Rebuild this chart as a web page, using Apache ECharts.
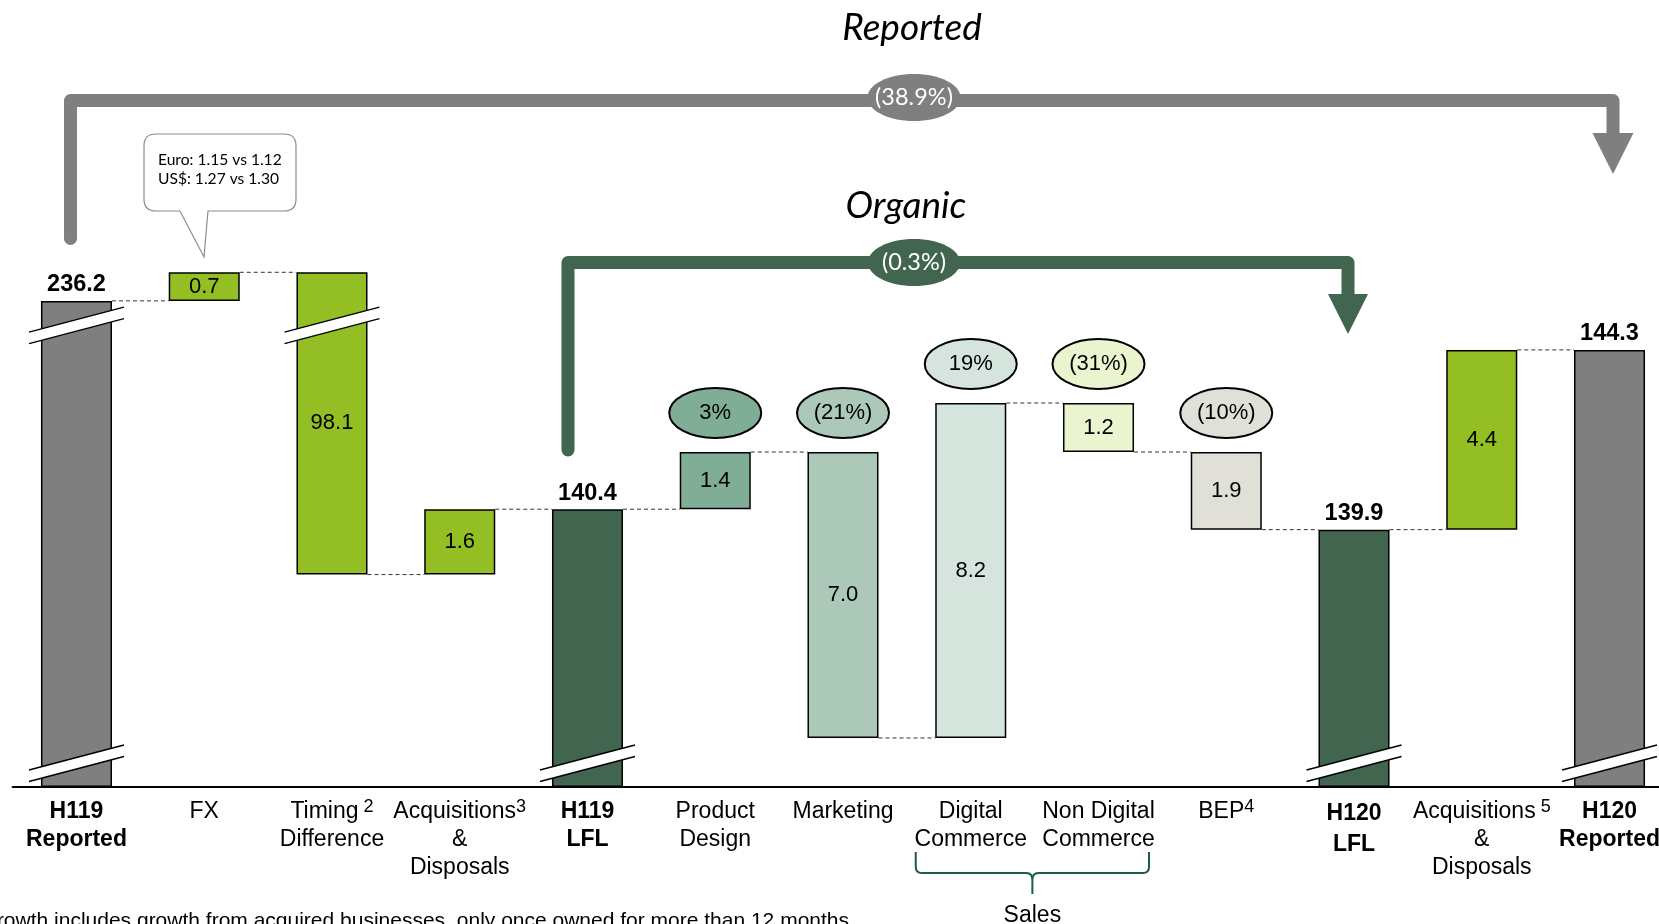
<!DOCTYPE html>
<html>
<head>
<meta charset="utf-8">
<title>H1 bridge: H119 to H120</title>
<script src="https://cdn.jsdelivr.net/npm/echarts@6/dist/echarts.min.js"></script>
<style>
  html, body { margin: 0; padding: 0; background: #ffffff; }
  #main { width: 1659px; height: 924px; }
</style>
</head>
<body>
<div id="main"></div>
<script>
// ---- data -------------------------------------------------------------
const categories = ['H119\nReported', 'FX', 'Timing\nDifference', 'Acquisitions\n&\nDisposals', 'H119\nLFL',
  'Product\nDesign', 'Marketing', 'Digital\nCommerce', 'Non Digital\nCommerce', 'BEP', 'H120\nLFL',
  'Acquisitions\n&\nDisposals', 'H120\nReported'];
const footnoteMarks = ['', '', ' 2', '3', '', '', '', '', '', '4', '', ' 5', ''];
// totals are absolute levels, the rest are movements (+ up, - down)
const values = [236.2, 0.7, -98.1, 1.6, 140.4, 1.4, -7.0, 8.2, -1.2, -1.9, 139.9, 4.4, 144.3];
const isTotal = [true, false, false, false, true, false, false, false, false, false, true, false, true];
const valueLabels = ['236.2', '0.7', '98.1', '1.6', '140.4', '1.4', '7.0', '8.2', '1.2', '1.9', '139.9', '4.4', '144.3'];
const growthLabels = ['', '', '', '', '', '3%', '(21%)', '19%', '(31%)', '(10%)', '', '', ''];
const reportedGrowth = '(38.9%)';
const organicGrowth = '(0.3%)';
const fxRates = ['Euro: 1.15 vs 1.12', 'US$: 1.27 vs 1.30'];
const footnote = 'LFL growth includes growth from acquired businesses, only once owned for more than 12 months';

// ---- styles -----------------------------------------------------------
const barColors = ['#7f7f7f', '#93be24', '#93be24', '#93be24', '#42654f', '#80ad96', '#abc8b8',
  '#d5e4dd', '#eaf4cf', '#e0e0d8', '#42654f', '#93be24', '#7f7f7f'];
const boldIdx = [0, 4, 12];
const FONT = '"Liberation Sans", Arial, Helvetica, sans-serif';
const LATO = 'Lato, "Noto Sans", sans-serif';
const GRAY = '#7f7f7f', GREEN = '#42654f', TEAL = '#1f5a4e';

// value axis: truncated at the bottom, broken between the two value ranges
const axisMin = 133.6, axisMax = 237.0;
const yBreak = { start: 144.9, end: 235.6 };
const lowBreakValue = axisMin + 0.58;

// ---- waterfall geometry from the values ---------------------------------
const base = [], span = [], levels = [], tops = [];
let run = 0;
values.forEach((v, i) => {
  if (isTotal[i]) {
    base.push(axisMin); span.push(v - axisMin); run = v;
  } else {
    const lo = v >= 0 ? run : run + v;
    base.push(lo); span.push(Math.abs(v)); run = run + v;
  }
  levels.push(run);
  tops.push(base[i] + span[i]);
});

const connectorData = levels.slice(0, -1).map((l, i) => [i, l]);
const breakData = [[0, yBreak.start], [2, yBreak.start],
  [0, lowBreakValue], [4, lowBreakValue], [10, lowBreakValue], [12, lowBreakValue]];
const growthData = growthLabels.map((g, i) => g ? [i, tops[i]] : null).filter(Boolean);

const chart = echarts.init(document.getElementById('main'), null, { renderer: 'canvas' });

function categoryLabel(value, idx) {
  const style = idx === 10 ? 'bl' : (boldIdx.includes(idx) ? 'b' : 'n');
  return value.split('\n').map((line, j) =>
    '{' + style + '|' + line + '}' + (j === 0 && footnoteMarks[idx] ? '{s|' + footnoteMarks[idx] + '}' : '')
  ).join('\n');
}

// FX call-out bubble and the "Sales" brace (drawn as paths)
function drawNotes(params, api) {
  const cL = api.coord([7, axisMin])[0] - 55;
  const cR = api.coord([8, axisMin])[0] + 50.5;
  const m = (cL + cR) / 2;
  const brace = 'M' + cL + ' 852 L' + cL + ' 867 Q' + cL + ' 873 ' + (cL + 6) + ' 873 L' + (m - 6) + ' 873 Q' + m + ' 873 ' + m + ' 880 L' + m + ' 894' +
    ' M' + m + ' 880 Q' + m + ' 873 ' + (m + 6) + ' 873 L' + (cR - 6) + ' 873 Q' + cR + ' 873 ' + cR + ' 867 L' + cR + ' 852';
  const bubble = 'M156 134 L284 134 Q296 134 296 146 L296 199 Q296 211 284 211 L208 211 L204 257 L180 211 L156 211 Q144 211 144 199 L144 146 Q144 134 156 134 Z';
  return {
    type: 'group',
    children: [
      { type: 'path', shape: { pathData: bubble }, style: { fill: '#fff', stroke: '#8c8c8c', lineWidth: 1.2 } },
      { type: 'text', x: 158, y: 160, style: { text: fxRates[0], fill: '#000', fontSize: 15.6, fontFamily: LATO, align: 'left', verticalAlign: 'middle' } },
      { type: 'text', x: 158, y: 179, style: { text: fxRates[1], fill: '#000', fontSize: 15.6, fontFamily: LATO, align: 'left', verticalAlign: 'middle' } },
      { type: 'path', shape: { pathData: brace }, style: { fill: null, stroke: TEAL, lineWidth: 2 } },
      { type: 'text', x: m, y: 916, style: { text: 'Sales', fill: '#000', fontSize: 23, fontFamily: FONT, align: 'center', verticalAlign: 'middle' } }
    ]
  };
}

const option = {
  animation: false,
  backgroundColor: '#ffffff',
  grid: { left: 12.6, right: -14.4, top: 268.2, bottom: 137, containLabel: false, outerBoundsMode: 'none' },
  xAxis: {
    type: 'category',
    data: categories,
    boundaryGap: true,
    z: 6,
    axisLine: { show: true, onZero: false, lineStyle: { color: '#000', width: 2 } },
    axisTick: { show: false },
    splitLine: { show: false },
    axisLabel: {
      interval: 0, margin: 11, color: '#000', fontFamily: FONT, fontSize: 23,
      formatter: categoryLabel,
      rich: {
        n: { fontSize: 23, lineHeight: 28, color: '#000', fontFamily: FONT },
        b: { fontSize: 23, lineHeight: 28, color: '#000', fontFamily: FONT, fontWeight: 'bold' },
        bl: { fontSize: 23, lineHeight: 31, color: '#000', fontFamily: FONT, fontWeight: 'bold' },
        s: { fontSize: 18, lineHeight: 19, color: '#000', fontFamily: FONT, verticalAlign: 'top' }
      }
    }
  },
  yAxis: {
    type: 'value',
    min: axisMin,
    max: axisMax,
    breaks: [{ start: yBreak.start, end: yBreak.end, gap: 0 }],
    breakArea: { show: false },
    axisLine: { show: false },
    axisTick: { show: false },
    axisLabel: { show: false },
    splitLine: { show: false }
  },
  series: [
    {
      // dashed level connectors between neighbouring bars
      type: 'custom', silent: true, z: 1,
      data: connectorData,
      renderItem: (params, api) => {
        const i = api.value(0), l = api.value(1);
        const a = api.coord([i, l]), b = api.coord([i + 1, l]);
        const hw = api.size([1, 0])[0] * 0.278;
        return {
          type: 'line',
          shape: { x1: a[0] + hw, y1: a[1], x2: b[0] - hw, y2: b[1] },
          style: { stroke: '#333', lineWidth: 1, lineDash: [4, 3] }
        };
      }
    },
    {
      type: 'bar', stack: 'bridge', barWidth: '55.6%', silent: true, z: 2,
      itemStyle: { color: 'rgba(0,0,0,0)' },
      data: base
    },
    {
      type: 'bar', stack: 'bridge', barWidth: '55.6%', z: 3,
      itemStyle: { borderColor: '#000', borderWidth: 1.5 },
      data: span.map((s, i) => ({
        value: s,
        itemStyle: { color: barColors[i] },
        label: isTotal[i]
          ? { show: true, position: 'top', distance: 4, fontSize: 23.5, lineHeight: 24, fontWeight: 'bold' }
          : { show: true, position: 'inside', fontSize: 22 }
      })),
      label: { color: '#000', fontFamily: FONT, formatter: p => valueLabels[p.dataIndex] }
    },
    {
      // axis-break marks across the truncated bars
      type: 'custom', silent: true, z: 5,
      data: breakData,
      renderItem: (params, api) => {
        const c = api.coord([api.value(0), api.value(1)]);
        const hw = 47.5, dy = hw * 0.263, s = 5.75;
        const xl = c[0] - hw, xr = c[0] + hw, yl = c[1] + dy, yr = c[1] - dy;
        return {
          type: 'group',
          children: [
            { type: 'polygon', shape: { points: [[xl, yl - s], [xr, yr - s], [xr, yr + s], [xl, yl + s]] }, style: { fill: '#fff' } },
            { type: 'line', shape: { x1: xl, y1: yl - s, x2: xr, y2: yr - s }, style: { stroke: '#000', lineWidth: 1.5 } },
            { type: 'line', shape: { x1: xl, y1: yl + s, x2: xr, y2: yr + s }, style: { stroke: '#000', lineWidth: 1.5 } }
          ]
        };
      }
    },
    {
      // growth rates in ovals above the organic drivers
      type: 'custom', silent: true, z: 5,
      data: growthData,
      renderItem: (params, api) => {
        const i = api.value(0);
        const c = api.coord([i, api.value(1)]);
        const cy = c[1] - 39;
        return {
          type: 'group',
          children: [
            { type: 'ellipse', shape: { cx: c[0], cy: cy, rx: 46, ry: 25 }, style: { fill: barColors[i], stroke: '#000', lineWidth: 2 } },
            { type: 'text', x: c[0], y: cy, style: { text: growthLabels[i], fill: '#000', fontSize: 22, fontFamily: FONT, align: 'center', verticalAlign: 'middle' } }
          ]
        };
      }
    },
    {
      type: 'custom', silent: true, z: 7,
      data: [[0, axisMin]],
      renderItem: drawNotes
    }
  ]
};

chart.setOption(option);

// ---- bridge arrows placed from the category positions --------------------
const cx = i => chart.convertToPixel({ gridIndex: 0 }, [i, axisMin])[0];

const repL = cx(0) - 6, repR = cx(12) + 3.5, repY = 100.5;
const orgL = cx(4) - 19.5, orgR = cx(10) - 6, orgY = 262.5;

const elements = [
  // Reported bridge arrow
  { type: 'text', x: 912, y: 28, style: { text: 'Reported', fill: '#000', fontSize: 37, fontStyle: 'italic', fontFamily: LATO, align: 'center', verticalAlign: 'middle' } },
  { type: 'polyline', shape: { points: [[repL, 238.5], [repL, repY], [repR, repY], [repR, 140]] },
    style: { stroke: GRAY, lineWidth: 13, fill: null, lineJoin: 'round', lineCap: 'round' } },
  { type: 'polygon', shape: { points: [[repR - 20.5, 133], [repR + 20.5, 133], [repR, 174]] }, style: { fill: GRAY } },
  { type: 'ellipse', shape: { cx: 914, cy: 97.5, rx: 46.5, ry: 23.5 }, style: { fill: GRAY } },
  { type: 'text', x: 914, y: 97.5, style: { text: reportedGrowth, fill: '#fff', fontSize: 23.5, fontFamily: LATO, align: 'center', verticalAlign: 'middle' } },

  // Organic bridge arrow
  { type: 'text', x: 906, y: 206, style: { text: 'Organic', fill: '#000', fontSize: 37, fontStyle: 'italic', fontFamily: LATO, align: 'center', verticalAlign: 'middle' } },
  { type: 'polyline', shape: { points: [[orgL, 450], [orgL, orgY], [orgR, orgY], [orgR, 300]] },
    style: { stroke: GREEN, lineWidth: 13, fill: null, lineJoin: 'round', lineCap: 'round' } },
  { type: 'polygon', shape: { points: [[orgR - 20, 294], [orgR + 20, 294], [orgR, 334]] }, style: { fill: GREEN } },
  { type: 'ellipse', shape: { cx: 914, cy: 262.5, rx: 46, ry: 23.5 }, style: { fill: GREEN } },
  { type: 'text', x: 914, y: 262.5, style: { text: organicGrowth, fill: '#fff', fontSize: 23.5, fontFamily: LATO, align: 'center', verticalAlign: 'middle' } },

  // footnote
  { type: 'text', x: 849, y: 911, style: { text: footnote, fill: '#000', fontSize: 21, fontFamily: FONT, align: 'right', verticalAlign: 'top' } }
];

chart.setOption({ graphic: { elements: elements } });
</script>
</body>
</html>
